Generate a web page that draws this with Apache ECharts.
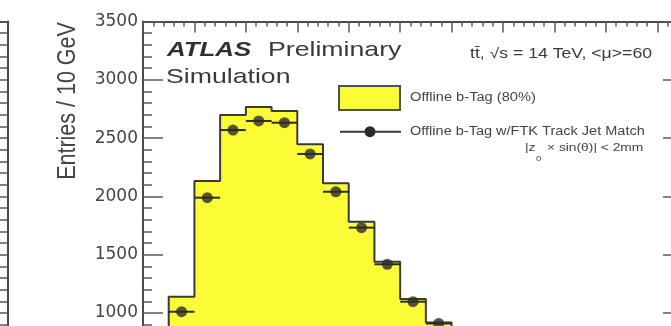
<!DOCTYPE html>
<html>
<head>
<meta charset="utf-8">
<script src="https://cdn.jsdelivr.net/npm/echarts@6/dist/echarts.min.js"></script>
<style>
  html, body { margin: 0; padding: 0; background: #ffffff; }
  #chart { width: 671px; height: 326px; }
</style>
</head>
<body>
<div id="chart"></div>
<script>
// Jet pT spectrum in 10 GeV bins (lower bin edges, GeV)
const binLowEdges = [10, 20, 30, 40, 50, 60, 70, 80, 90, 100, 110];
const binWidth = 10;
// Offline b-tag, 80% working point (filled histogram)
const offlineBTag = [1140, 2132, 2698, 2767, 2732, 2447, 2112, 1783, 1440, 1120, 919];
// Offline b-tag with FTK track-jet match (markers)
const ftkMatched = [1011, 1989, 2569, 2647, 2632, 2364, 2040, 1732, 1418, 1097, 910];
// Axis ranges and tick steps
const xRange = [0, 210];
const xMajorStep = 20;
const yRange = [0, 3500];
const yMajorStep = 500;
const yTitle = 'Entries / 10 GeV';

const FONT = "'Liberation Sans', Arial, Helvetica, sans-serif";
const FRAME = '#4a4a4a';
const TICK = '#5a5a5a';
const YELLOW = '#fcfc36';
const DARK = '#2b2b2b';

// Step outline of the filled histogram, built from the bin arrays
const stepData = [[binLowEdges[0], 0]];
binLowEdges.forEach((lo, i) => stepData.push([lo, offlineBTag[i]]));
stepData.push([binLowEdges[binLowEdges.length - 1] + binWidth, 0]);

const errBarData = binLowEdges.map((lo, i) => [lo, lo + binWidth, ftkMatched[i]]);
const markerData = binLowEdges.map((lo, i) => [lo + binWidth / 2, ftkMatched[i]]);

const frameLine = { show: true, onZero: false, lineStyle: { color: FRAME, width: 2 } };

function yAxisDef(gridIndex, position, labels) {
  return {
    type: 'value', gridIndex, position,
    min: yRange[0], max: yRange[1], interval: yMajorStep,
    axisLine: frameLine,
    axisTick: { show: true, inside: true, length: 20, lineStyle: { color: TICK, width: 1.5 } },
    minorTick: { show: true, splitNumber: 5, length: 9, lineStyle: { color: TICK, width: 1.5 } },
    axisLabel: labels
      ? { show: true, margin: 5, fontFamily: 'DejaVu Sans', fontSize: 17, color: '#454545',
          formatter: v => String(v) }
      : { show: false },
    splitLine: { show: false }
  };
}

function label(text, x, y, size, opts) {
  opts = opts || {};
  return {
    type: 'text', x, y,
    scaleX: opts.sx || 1.22, scaleY: opts.sy || 1,
    rotation: opts.rot || 0,
    style: {
      text, fill: opts.color || '#333333',
      fontFamily: FONT, fontSize: size,
      fontWeight: opts.bold ? 'bold' : 'normal',
      fontStyle: opts.italic ? 'italic' : 'normal',
      align: opts.align || 'left', verticalAlign: 'middle'
    },
    z: 20
  };
}

const chart = echarts.init(document.getElementById('chart'), null, { renderer: 'canvas' });

chart.setOption({
  backgroundColor: '#ffffff',
  animation: false,
  grid: [
    { left: 143, right: -12, top: 21.5, bottom: -103.6, outerBoundsMode: 'none', containLabel: false },
    { left: -400, right: 663.7, top: 21.5, bottom: -103.6, outerBoundsMode: 'none', containLabel: false }
  ],
  xAxis: [
    {
      type: 'value', gridIndex: 0, position: 'bottom',
      min: xRange[0], max: xRange[1], interval: xMajorStep,
      axisLine: frameLine,
      axisTick: { show: true, inside: true, length: 11, lineStyle: { color: TICK, width: 1.5 } },
      minorTick: { show: true, splitNumber: 5, length: 5, lineStyle: { color: TICK, width: 1.5 } },
      axisLabel: { show: false },
      splitLine: { show: false }
    },
    {
      type: 'value', gridIndex: 0, position: 'top',
      min: xRange[0], max: xRange[1], interval: xMajorStep,
      axisLine: frameLine,
      axisTick: { show: true, inside: true, length: 11, lineStyle: { color: TICK, width: 1.5 } },
      minorTick: { show: true, splitNumber: 5, length: 5, lineStyle: { color: TICK, width: 1.5 } },
      axisLabel: { show: false },
      splitLine: { show: false }
    },
    {
      type: 'value', gridIndex: 1, position: 'top',
      min: xRange[0], max: xRange[1],
      axisLine: frameLine,
      axisTick: { show: false },
      axisLabel: { show: false },
      splitLine: { show: false }
    }
  ],
  yAxis: [
    yAxisDef(0, 'left', true),
    yAxisDef(0, 'right', false),
    yAxisDef(1, 'right', false)
  ],
  series: [
    {
      name: 'Offline b-Tag (80%)',
      type: 'line', xAxisIndex: 0, yAxisIndex: 0,
      step: 'end', data: stepData,
      symbol: 'none',
      lineStyle: { color: '#3a3a3a', width: 2 },
      areaStyle: { color: YELLOW, opacity: 1 },
      z: 2
    },
    {
      name: 'FTK match bin width',
      type: 'custom', xAxisIndex: 0, yAxisIndex: 0,
      data: errBarData,
      encode: { x: [0, 1], y: 2 },
      renderItem: (params, api) => {
        const a = api.coord([api.value(0), api.value(2)]);
        const b = api.coord([api.value(1), api.value(2)]);
        return {
          type: 'line',
          shape: { x1: a[0], y1: a[1], x2: b[0], y2: b[1] },
          style: { stroke: DARK, lineWidth: 2 }
        };
      },
      z: 3
    },
    {
      name: 'Offline b-Tag w/FTK Track Jet Match',
      type: 'scatter', xAxisIndex: 0, yAxisIndex: 0,
      data: markerData,
      symbol: 'circle', symbolSize: 11,
      itemStyle: { color: DARK },
      z: 4
    }
  ],
  graphic: [
    label(yTitle, 68, 101, 21.5, { sx: 1, sy: 1.18, rot: Math.PI / 2, align: 'center', color: '#444444' }),
    label('ATLAS', 167, 50, 21, { bold: true, italic: true, sx: 1.23, color: '#303030' }),
    label('Preliminary', 268, 50, 21, { sx: 1.27, color: '#3a3a3a' }),
    label('Simulation', 166, 77.5, 21, { sx: 1.27, color: '#3a3a3a' }),
    label('tt\u0304, \u221As = 14 TeV, <\u03BC>=60', 470, 54, 14, { sx: 1.26, color: '#3a3a3a' }),
    // legend entries
    {
      type: 'rect', shape: { x: 339, y: 86, width: 61, height: 24 },
      style: { fill: YELLOW, stroke: '#505050', lineWidth: 2 }, z: 20
    },
    label('Offline b-Tag (80%)', 410, 98, 12, { sx: 1.22, color: '#444444' }),
    {
      type: 'line', shape: { x1: 340, y1: 131.7, x2: 401, y2: 131.7 },
      style: { stroke: '#3a3a3a', lineWidth: 2 }, z: 20
    },
    {
      type: 'circle', shape: { cx: 370, cy: 131.7, r: 5.5 },
      style: { fill: DARK }, z: 21
    },
    label('Offline b-Tag w/FTK Track Jet Match', 410, 131.5, 12, { sx: 1.21, color: '#444444' }),
    label('|z   \u00D7 sin(\u03B8)| < 2mm', 525, 147.5, 11.5, { sx: 1.2, color: '#444444' }),
    label('0', 536, 158.5, 8, { sx: 1.2, color: '#444444' })
  ]
});
</script>
</body>
</html>
